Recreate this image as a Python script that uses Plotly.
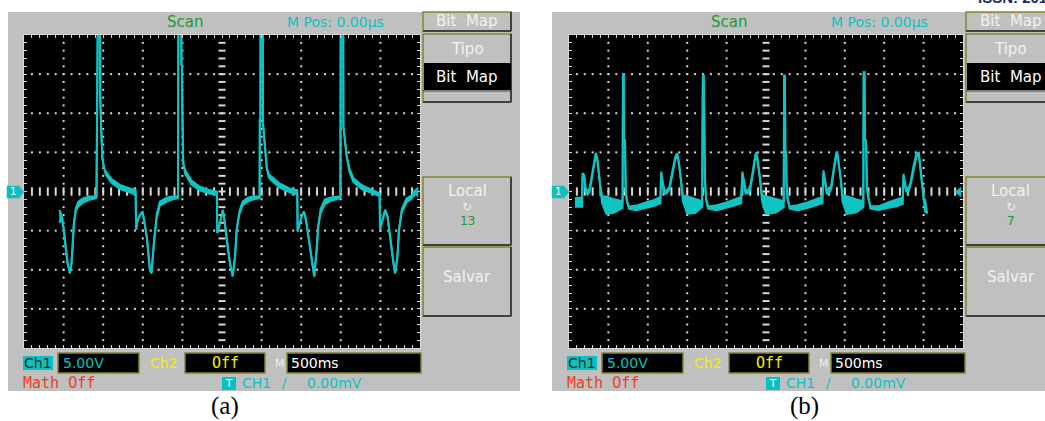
import numpy as np
import plotly.graph_objects as go

# ---------------- data (screen divisions: x 0..10, y -4..4) ----------------
A_X = [0.89, 0.93, 0.97, 1.01, 1.06, 1.10, 1.16, 1.20, 1.23, 1.26, 1.31, 1.37, 1.50, 1.65, 1.83,
       1.845, 1.86, 1.865, 1.92, 1.925, 1.95, 1.98, 2.02, 2.07, 2.21, 2.42, 2.68, 2.82,
       2.83, 2.86, 2.93, 2.99, 3.03, 3.10, 3.18, 3.22, 3.28, 3.35, 3.43, 3.60, 3.75, 3.89,
       3.90, 3.97, 3.975, 3.99, 4.00, 4.02, 4.07, 4.11, 4.23, 4.44, 4.70, 4.87,
       4.88, 4.95, 5.02, 5.05, 5.12, 5.20, 5.27, 5.33, 5.37, 5.44, 5.52, 5.65, 5.80, 5.95,
       5.955, 5.97, 5.975, 6.03, 6.035, 6.09, 6.13, 6.18, 6.25, 6.46, 6.72, 6.90,
       6.91, 7.01, 7.07, 7.12, 7.21, 7.29, 7.33, 7.39, 7.43, 7.49, 7.60, 7.75, 7.99,
       8.00, 8.06, 8.065, 8.15, 8.22, 8.32, 8.53, 8.82, 8.98,
       8.99, 9.06, 9.12, 9.18, 9.24, 9.33, 9.37, 9.43, 9.47, 9.54, 9.66, 9.79, 9.87]
A_HI = [-0.47, -0.55, -0.68, -0.98, -1.49, -1.83, -2.09, -1.83, -1.41, -0.81, -0.42, -0.26, -0.17, -0.13, -0.12,
        1.79, 1.79, 4.6, 4.6, 2.43, 1.58, 0.85, 0.60, 0.50, 0.32, 0.17, 0.08, 0.04,
        -0.98, -0.77, -0.60, -0.51, -0.72, -1.15, -2.00, -2.09, -1.32, -0.60, -0.26, -0.16, -0.13, -0.12,
        4.6, 4.6, 3.25, 3.20, 2.00, 0.72, 0.55, 0.47, 0.28, 0.12, 0.03, 0.00,
        -1.06, -0.81, -0.47, -0.64, -1.24, -1.83, -2.17, -1.66, -0.98, -0.50, -0.26, -0.16, -0.13, -0.12,
        1.83, 1.83, 4.6, 4.6, 1.75, 1.15, 0.60, 0.45, 0.38, 0.20, 0.07, 0.03,
        -1.02, -0.64, -0.51, -0.72, -1.32, -1.92, -2.17, -1.49, -0.89, -0.45, -0.20, -0.15, -0.12,
        4.6, 4.6, 1.66, 0.89, 0.58, 0.34, 0.16, 0.03, -0.05,
        -0.98, -0.72, -0.47, -0.64, -1.15, -1.83, -2.09, -1.66, -0.98, -0.45, -0.18, -0.10, -0.02]
A_LO = [-0.80, -0.72, -0.78, -0.98, -1.49, -1.83, -2.09, -1.83, -1.41, -0.81, -0.50, -0.38, -0.28, -0.21, -0.17,
        1.79, 1.79, 4.6, 4.6, 2.43, 1.58, 0.85, 0.60, 0.42, 0.22, 0.07, -0.03, -0.08,
        -0.98, -0.77, -0.60, -0.51, -0.72, -1.15, -2.00, -2.09, -1.32, -0.68, -0.36, -0.26, -0.20, -0.17,
        4.6, 4.6, 3.25, 3.20, 2.00, 0.72, 0.45, 0.38, 0.18, 0.03, -0.06, -0.08,
        -1.06, -0.81, -0.47, -0.64, -1.24, -1.83, -2.17, -1.66, -0.98, -0.58, -0.36, -0.25, -0.20, -0.17,
        1.83, 1.83, 4.6, 4.6, 1.75, 1.15, 0.60, 0.36, 0.28, 0.10, -0.03, -0.07,
        -1.02, -0.64, -0.51, -0.72, -1.32, -1.92, -2.17, -1.49, -0.89, -0.55, -0.32, -0.24, -0.17,
        4.6, 4.6, 1.66, 0.89, 0.50, 0.24, 0.06, -0.06, -0.12,
        -0.98, -0.72, -0.47, -0.64, -1.15, -1.83, -2.09, -1.66, -0.98, -0.53, -0.28, -0.18, -0.08]

B_X = [0.15, 0.33, 0.345, 0.39, 0.42, 0.47, 0.52, 0.57, 0.62, 0.68, 0.72, 0.76, 0.80, 0.84, 0.95, 1.15, 1.36,
       1.37, 1.39, 1.395, 1.42, 1.44, 1.47, 1.52, 1.70, 1.95, 2.15, 2.32,
       2.34, 2.38, 2.42, 2.48, 2.55, 2.62, 2.70, 2.75, 2.79, 2.84, 2.89, 3.00, 3.20, 3.38,
       3.39, 3.40, 3.42, 3.43, 3.45, 3.48, 3.53, 3.75, 4.00, 4.20, 4.37,
       4.40, 4.44, 4.48, 4.54, 4.60, 4.67, 4.73, 4.76, 4.80, 4.85, 4.90, 5.00, 5.25, 5.45,
       5.46, 5.48, 5.49, 5.51, 5.52, 5.55, 5.60, 5.80, 6.05, 6.25, 6.43,
       6.46, 6.50, 6.54, 6.60, 6.66, 6.72, 6.78, 6.81, 6.85, 6.90, 6.94, 7.05, 7.28, 7.47,
       7.48, 7.50, 7.51, 7.54, 7.56, 7.60, 7.65, 7.85, 8.10, 8.30, 8.47,
       8.49, 8.55, 8.60, 8.66, 8.74, 8.82, 8.88, 8.92, 8.97, 9.00, 9.04, 9.09]
B_HI = [-0.17, -0.15, 0.47, 0.42, 0.10, 0.02, 0.06, 0.35, 0.72, 0.99, 0.85, 0.45, 0.10, -0.12, -0.13, -0.20, -0.25,
        3.00, 3.00, 1.35, 1.30, 0.00, -0.25, -0.38, -0.36, -0.28, -0.22, -0.14,
        0.51, 0.25, 0.05, 0.02, 0.12, 0.50, 0.90, 0.98, 0.75, 0.30, -0.10, -0.12, -0.18, -0.25,
        2.33, 2.96, 2.96, 1.40, 0.30, -0.20, -0.38, -0.35, -0.28, -0.20, -0.14,
        0.51, 0.25, 0.05, 0.02, 0.15, 0.55, 0.95, 1.00, 0.75, 0.30, -0.10, -0.12, -0.20, -0.25,
        2.96, 2.96, 1.00, 1.00, 0.20, -0.20, -0.38, -0.35, -0.28, -0.20, -0.14,
        0.54, 0.25, 0.05, 0.03, 0.18, 0.60, 0.98, 1.02, 0.75, 0.30, -0.10, -0.12, -0.20, -0.25,
        3.05, 3.05, 1.35, 1.30, 0.10, -0.20, -0.38, -0.38, -0.28, -0.20, -0.15,
        0.45, 0.10, 0.05, 0.20, 0.63, 0.98, 0.99, 0.65, 0.21, -0.17, -0.22, -0.56]
B_LO = [-0.39, -0.39, 0.40, 0.35, 0.00, -0.08, -0.02, 0.28, 0.65, 0.92, 0.78, 0.40, 0.05, -0.30, -0.57, -0.54, -0.42,
        3.00, 3.00, 1.35, 1.30, 0.00, -0.25, -0.44, -0.48, -0.42, -0.37, -0.30,
        0.45, 0.15, -0.05, -0.05, 0.05, 0.42, 0.83, 0.90, 0.70, 0.30, -0.25, -0.57, -0.55, -0.40,
        2.33, 2.96, 2.96, 1.40, 0.30, -0.20, -0.44, -0.48, -0.42, -0.36, -0.30,
        0.45, 0.15, -0.05, -0.05, 0.06, 0.48, 0.88, 0.93, 0.68, 0.30, -0.25, -0.57, -0.54, -0.40,
        2.96, 2.96, 1.00, 1.00, 0.20, -0.20, -0.44, -0.48, -0.42, -0.36, -0.30,
        0.47, 0.15, -0.05, -0.05, 0.08, 0.52, 0.90, 0.95, 0.68, 0.30, -0.25, -0.57, -0.54, -0.40,
        3.05, 3.05, 1.35, 1.30, 0.10, -0.20, -0.44, -0.47, -0.42, -0.38, -0.32,
        0.38, 0.02, -0.03, 0.12, 0.56, 0.90, 0.92, 0.58, 0.15, -0.25, -0.52, -0.56]

LOCAL_NUM = ["13", "7"]
CAPTIONS = ["(a)", "(b)"]

# ---------------- layout helpers (pixel -> paper) ----------------
W, H = 1045, 421
def PX(x): return x / W
def PY(y): return 1 - y / H

GRAY = "#c0c0c0"
OLIVE = "#85852e"
DARK = "#404040"
CYAN = "#0cc0c0"
TRACE = "#10c4c4"
GREEN = "#1e9a2a"
YEL = "#f0f000"
RED = "#e8402a"
BTN_TXT = "#f2f2f2"
GRID = "#d8d8d8"
FONT = "DejaVu Sans"

shapes, anns = [], []

def rect(x0, y0, x1, y1, fill, line=None, lw=0):
    shapes.append(dict(type="rect", xref="paper", yref="paper",
                       x0=PX(x0), x1=PX(x1), y0=PY(y1), y1=PY(y0),
                       fillcolor=fill, line=dict(color=line or fill, width=lw), layer="below"))

def hline(x0, x1, y, color, lw=1.5):
    shapes.append(dict(type="line", xref="paper", yref="paper", x0=PX(x0), x1=PX(x1),
                       y0=PY(y), y1=PY(y), line=dict(color=color, width=lw), layer="below"))

def vline(x, y0, y1, color, lw=1.5):
    shapes.append(dict(type="line", xref="paper", yref="paper", x0=PX(x), x1=PX(x),
                       y0=PY(y0), y1=PY(y1), line=dict(color=color, width=lw), layer="below"))

def path(pts, color):
    d = "M " + " L ".join(f"{PX(x):.5f},{PY(y):.5f}" for x, y in pts) + " Z"
    shapes.append(dict(type="path", xref="paper", yref="paper", path=d,
                       fillcolor=color, line=dict(color=color, width=0.5), layer="above"))

def txt(x, y, s, color, size=15, xanchor="center", family=FONT):
    anns.append(dict(x=PX(x), y=PY(y), xref="paper", yref="paper", text=s, showarrow=False,
                     xanchor=xanchor, yanchor="middle", borderpad=0,
                     font=dict(family=family, size=size, color=color)))

def button(x0, y0, x1, y1):
    rect(x0, y0, x1, y1, GRAY, OLIVE, 1.5)
    hline(x0, x1, y1, DARK, 2)
    vline(x1, y0, y1, DARK, 2)

SCREENS = [(24, 420), (569, 963)]
SCR_Y = (35, 348)
PANEL_OFF = [0, 544]

for i, off in enumerate(PANEL_OFF):
    sx0, sx1 = SCREENS[i]
    rect(8 + off, 12, 520 + off if i == 0 else 1060, 391, GRAY)
    rect(sx0, SCR_Y[0], sx1, SCR_Y[1], "black")
    # top status
    txt(185 + off, 22, "Scan", GREEN, 15)
    txt(335 + off, 22, "M Pos: 0.00\u00b5s", CYAN, 14)
    # right side menu
    bx0, bx1 = 423 + off - (1 if i else 0), 511 + off
    button(bx0, 12, bx1, 31)
    txt((bx0 + bx1) / 2, 21.5, "Bit&nbsp;&nbsp;Map", BTN_TXT, 15)
    button(bx0, 34, bx1, 102)
    txt((bx0 + bx1) / 2, 49, "Tipo", BTN_TXT, 15)
    rect(bx0 + 1, 63, bx1, 90, "black")
    txt((bx0 + bx1) / 2, 77, "Bit&nbsp;&nbsp;Map", "white", 15)
    hline(bx0, bx1, 91, DARK, 1)
    button(bx0, 177, bx1, 245)
    txt((bx0 + bx1) / 2, 191, "Local", BTN_TXT, 15)
    txt((bx0 + bx1) / 2, 207, "\u21bb", BTN_TXT, 12)
    txt((bx0 + bx1) / 2, 221, LOCAL_NUM[i], GREEN, 12)
    button(bx0, 247, bx1, 316)
    txt((bx0 + bx1) / 2, 277, "Salvar", BTN_TXT, 15)
    # bottom status row 1
    rect(23 + off, 356, 53 + off, 370, CYAN)
    txt(38 + off, 363, "Ch1", "#002a2a", 14)
    rect(58 + off, 353, 139 + off, 373, "black", OLIVE, 1.5)
    txt(62 + off, 363, "5.00V", CYAN, 14, "left")
    txt(164 + off, 363, "Ch2", YEL, 14)
    rect(185 + off, 353, 265 + off, 373, "black", OLIVE, 1.5)
    txt(225 + off, 363, "Off", YEL, 15, family="DejaVu Sans Mono")
    txt(280 + off, 363, "M", "#f0f0f0", 11)
    rect(287 + off, 353, 421 + off, 373, "black", OLIVE, 1.5)
    txt(290 + off, 363, "500ms", "white", 14, "left")
    # bottom status row 2
    txt(22 + off, 383, "Math Off", RED, 15, "left", "DejaVu Sans Mono")
    rect(222 + off, 377, 236 + off, 390, CYAN)
    txt(229 + off, 383.5, "T", "white", 10)
    txt(241 + off, 383, "CH1", CYAN, 14, "left")
    txt(284 + off, 383, "\u2215", CYAN, 14)
    txt(306 + off, 383, "0.00mV", CYAN, 14, "left")
    # channel / trigger markers
    path([(sx0 - 17, 186), (sx0 - 5, 186), (sx0, 192), (sx0 - 5, 198), (sx0 - 17, 198)], CYAN)
    txt(sx0 - 11, 192, "1", "white", 10)
    path([(sx1 - 8, 192), (sx1 - 2, 187), (sx1 - 2, 197)], CYAN)
    # caption
    txt(225 + off * 1.065, 406, CAPTIONS[i], "black", 25, family="Liberation Serif")

anns.append(dict(x=PX(1012), y=PY(-2), xref="paper", yref="paper", text="<b>ISSN: 201</b>",
                 showarrow=False, xanchor="center", yanchor="middle",
                 font=dict(family="Liberation Sans", size=15, color="#1c2c5c")))

fig = go.Figure()

# grid decorations per screen
gx_dots, gy_dots = [], []
ticks02 = np.round(np.arange(0.2, 10.0, 0.2), 3)
yticks02 = np.round(np.arange(-3.8, 4.0, 0.2), 3)
for gx in [1, 2, 3, 4, 6, 7, 8, 9]:
    gx_dots += [gx] * len(yticks02); gy_dots += list(yticks02)
for gy in [-3, -2, -1, 1, 2, 3]:
    gx_dots += list(ticks02); gy_dots += [gy] * len(ticks02)

for i, (xs, hi, lo) in enumerate([(A_X, A_HI, A_LO), (B_X, B_HI, B_LO)]):
    xa = "x" if i == 0 else "x2"
    ya = "y" if i == 0 else "y2"
    fig.add_trace(go.Scatter(x=gx_dots, y=gy_dots, mode="markers", xaxis=xa, yaxis=ya,
                             marker=dict(symbol="square", size=2, color=GRID, line=dict(width=0)),
                             hoverinfo="skip", showlegend=False))
    fig.add_trace(go.Scatter(x=[5] * len(yticks02), y=yticks02, mode="markers", xaxis=xa, yaxis=ya,
                             marker=dict(symbol="line-ew", size=5, line=dict(width=2, color=GRID)),
                             hoverinfo="skip", showlegend=False))
    fig.add_trace(go.Scatter(x=ticks02, y=[0] * len(ticks02), mode="markers", xaxis=xa, yaxis=ya,
                             marker=dict(symbol="line-ns", size=6, line=dict(width=2, color=GRID)),
                             hoverinfo="skip", showlegend=False))
    fig.add_trace(go.Scatter(x=xs, y=lo, mode="lines", xaxis=xa, yaxis=ya,
                             line=dict(color=TRACE, width=2), hoverinfo="skip", showlegend=False))
    fig.add_trace(go.Scatter(x=xs, y=hi, mode="lines", xaxis=xa, yaxis=ya, fill="tonexty",
                             fillcolor=TRACE, line=dict(color=TRACE, width=2),
                             hoverinfo="skip", showlegend=False))

ax_common = dict(showgrid=False, zeroline=False, ticks="inside", tick0=0, dtick=0.2, ticklen=3,
                 tickwidth=1, tickcolor=GRID, showticklabels=False, showline=True,
                 linecolor=GRID, linewidth=1, mirror="ticks", fixedrange=True)

fig.update_layout(
    width=W, height=H, margin=dict(l=0, r=0, t=0, b=0),
    paper_bgcolor="white", plot_bgcolor="rgba(0,0,0,0)",
    xaxis=dict(domain=[PX(SCREENS[0][0]), PX(SCREENS[0][1])], range=[0, 10], **ax_common),
    yaxis=dict(domain=[PY(SCR_Y[1]), PY(SCR_Y[0])], range=[-4, 4], **ax_common),
    xaxis2=dict(domain=[PX(SCREENS[1][0]), PX(SCREENS[1][1])], range=[0, 10], anchor="y2", **ax_common),
    yaxis2=dict(domain=[PY(SCR_Y[1]), PY(SCR_Y[0])], range=[-4, 4], anchor="x2", **ax_common),
    shapes=shapes, annotations=anns, showlegend=False,
)

fig.write_html("out.html", config={"displayModeBar": False},
               post_script="document.body.style.margin='0';document.body.style.overflow='hidden';")
